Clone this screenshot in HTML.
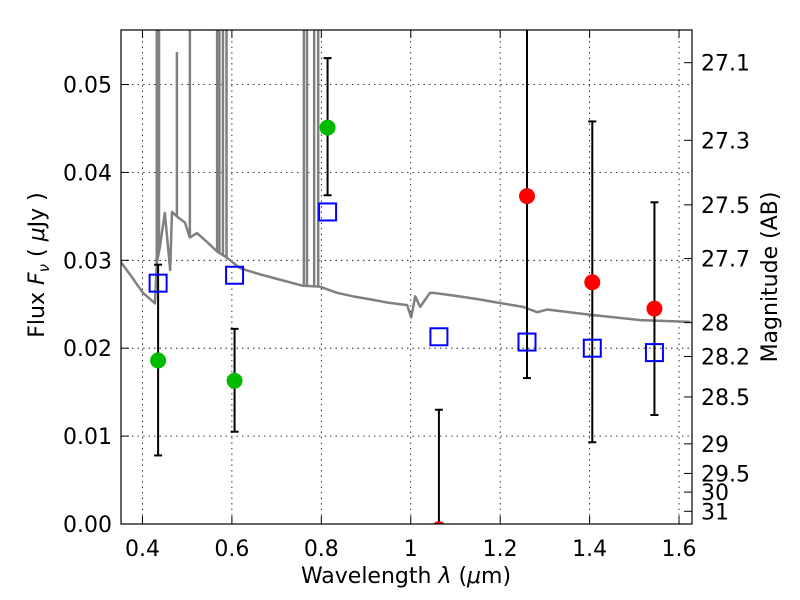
<!DOCTYPE html>
<html><head><meta charset="utf-8"><style>
body{margin:0;background:#fff;}
svg{display:block;font-family:"DejaVu Sans","Liberation Sans",sans-serif;}
</style></head><body>
<svg id="chart" width="800" height="600">
<defs><clipPath id="clip"><rect x="121" y="30" width="571" height="494"/></clipPath></defs>
<rect x="0" y="0" width="800" height="600" fill="#fff"/>
<g id="grid"></g>
<g id="plot" clip-path="url(#clip)"></g>
<rect x="121" y="30" width="571" height="494" fill="none" stroke="#000" stroke-width="1.2"/>
<g id="axes"></g>
<text x="406" y="583" font-size="22" text-anchor="middle">Wavelength  <tspan font-style="italic">λ</tspan> (<tspan font-style="italic">μ</tspan>m)</text>
<text transform="translate(44,265) rotate(-90)" font-size="22" text-anchor="middle">Flux  <tspan font-style="italic">F</tspan><tspan font-style="italic" font-size="15" dy="5">ν</tspan><tspan dy="-5">  ( </tspan><tspan font-style="italic">μ</tspan>Jy )</text>
<text transform="translate(777,277) rotate(-90)" font-size="22" text-anchor="middle">Magnitude (AB)</text>
</svg>
<script>
const xTicks=[0.4,0.6,0.8,1.0,1.2,1.4,1.6];
const xTickLabels=["0.4","0.6","0.8","1","1.2","1.4","1.6"];
const yTicks=[0,0.01,0.02,0.03,0.04,0.05];
const yTickLabels=["0.00","0.01","0.02","0.03","0.04","0.05"];
const magTicks=[27.1,27.3,27.5,27.7,28,28.2,28.5,29,29.5,30,31];
const magTickLabels=["27.1","27.3","27.5","27.7","28","28.2","28.5","29","29.5","30","31"];
const specWave=[0.350,0.372,0.401,0.428,0.432,0.439,0.450,0.462,0.466,0.479,0.495,0.506,0.522,0.544,0.567,0.589,0.618,0.663,0.707,0.759,0.797,0.835,0.871,0.916,0.947,0.992,1.001,1.010,1.021,1.043,1.050,1.095,1.148,1.193,1.251,1.283,1.305,1.401,1.513,1.625];
const specFlux=[0.0299,0.0284,0.0263,0.0251,0.0297,0.0315,0.0354,0.0289,0.0355,0.0349,0.0343,0.0326,0.0331,0.0321,0.0310,0.0303,0.0291,0.0284,0.0278,0.0271,0.0270,0.0263,0.0259,0.0255,0.0252,0.0249,0.0235,0.0259,0.0247,0.0263,0.0263,0.0260,0.0256,0.0252,0.0247,0.0241,0.0244,0.0238,0.0232,0.0230];
const spikeWave=[0.432,0.437,0.477,0.506,0.567,0.572,0.580,0.588,0.761,0.768,0.784,0.793];
const spikeTop=[0.06,0.06,0.0537,0.06,0.06,0.06,0.06,0.06,0.06,0.06,0.06,0.06];
const obsWave=[0.435,0.606,0.814,1.063,1.260,1.406,1.545];
const obsFlux=[0.0186,0.0163,0.0451,-0.0006,0.0373,0.0275,0.0245];
const obsLo=[0.0078,0.0105,0.0374,0.0,0.0166,0.0093,0.0124];
const obsHi=[0.0295,0.0222,0.0530,0.0130,0.0600,0.0458,0.0366];
const obsColor=["#00bb00","#00bb00","#00bb00","#ff0000","#ff0000","#ff0000","#ff0000"];
const modelFlux=[0.0274,0.0283,0.0355,0.0213,0.0207,0.0200,0.0195];

const X0=121,X1=692,Y0=524,Y1=30,xmin=0.352,xmax=1.629,ymin=0,ymax=0.0562;
const xs=v=>X0+(v-xmin)/(xmax-xmin)*(X1-X0);
const ys=v=>Y0-(v-ymin)/(ymax-ymin)*(Y0-Y1);
const magToFlux=m=>Math.pow(10,(23.9-m)/2.5);
const NS="http://www.w3.org/2000/svg";
function mk(tag,attrs,parent){const e=document.createElementNS(NS,tag);for(const k in attrs)e.setAttribute(k,attrs[k]);parent.appendChild(e);return e;}
const grid=document.getElementById('grid'),plot=document.getElementById('plot'),axes=document.getElementById('axes');
xTicks.forEach((t,i)=>{const x=xs(t);
 const g=mk('line',{x1:x,x2:x,y1:Y1,y2:Y0,stroke:'#000','stroke-width':0.8,'stroke-dasharray':'1.5,4'},grid);
 
 const a=mk('line',{x1:x,x2:x,y1:Y0,y2:Y0-8,stroke:'#000','stroke-width':1},axes);
 
 const b=mk('line',{x1:x,x2:x,y1:Y1,y2:Y1+8,stroke:'#000','stroke-width':1},axes);
 
 const tx=mk('text',{x:x,y:556,'font-size':22,'text-anchor':'middle'},axes);tx.textContent=xTickLabels[i];
 
});
yTicks.forEach((t,i)=>{const y=ys(t);
 if(t>0){const g=mk('line',{x1:X0,x2:X1,y1:y,y2:y,stroke:'#000','stroke-width':0.8,'stroke-dasharray':'1.5,4'},grid);
 }
 const a=mk('line',{x1:X0,x2:X0+8,y1:y,y2:y,stroke:'#000','stroke-width':1},axes);
 
 const tx=mk('text',{x:112,y:y+8,'font-size':22,'text-anchor':'end'},axes);tx.textContent=yTickLabels[i];
 
});
magTicks.forEach((m,i)=>{const y=ys(magToFlux(m));
 const a=mk('line',{x1:X1,x2:X1-8,y1:y,y2:y,stroke:'#000','stroke-width':1},axes);
 
 const tx=mk('text',{x:701,y:y+8,'font-size':22},axes);tx.textContent=magTickLabels[i];
 
});
function interp(w){for(let i=1;i<specWave.length;i++){if(w<=specWave[i]){const t=(w-specWave[i-1])/(specWave[i]-specWave[i-1]);return specFlux[i-1]+t*(specFlux[i]-specFlux[i-1]);}}return specFlux[specFlux.length-1];}
spikeWave.forEach((w,i)=>{const l=mk('line',{x1:xs(w),x2:xs(w),y1:ys(interp(w)),y2:ys(spikeTop[i]),stroke:'#808080','stroke-width':2.5},plot);
 });
const sp=mk('polyline',{points:specWave.map((w,i)=>xs(w)+','+ys(specFlux[i])).join(' '),fill:'none',stroke:'#808080','stroke-width':2.5,'stroke-linejoin':'round'},plot);

obsWave.forEach((w,i)=>{const x=xs(w);
 const e=mk('line',{x1:x,x2:x,y1:ys(obsLo[i]),y2:ys(obsHi[i]),stroke:'#000','stroke-width':2},plot);
 
 [obsLo[i],obsHi[i]].forEach(v=>{if(v<=0)return;const c=mk('line',{x1:x-4,x2:x+4,y1:ys(v),y2:ys(v),stroke:'#000','stroke-width':2},plot);
  });
});
obsWave.forEach((w,i)=>{const s=mk('rect',{x:xs(w)-8.5,y:ys(modelFlux[i])-8.5,width:17,height:17,fill:'none',stroke:'#0000ff','stroke-width':2},plot);
 });
obsWave.forEach((w,i)=>{const c=mk('circle',{cx:xs(w),cy:ys(obsFlux[i]),r:8,fill:obsColor[i]},plot);
 });
</script>
</body></html>
